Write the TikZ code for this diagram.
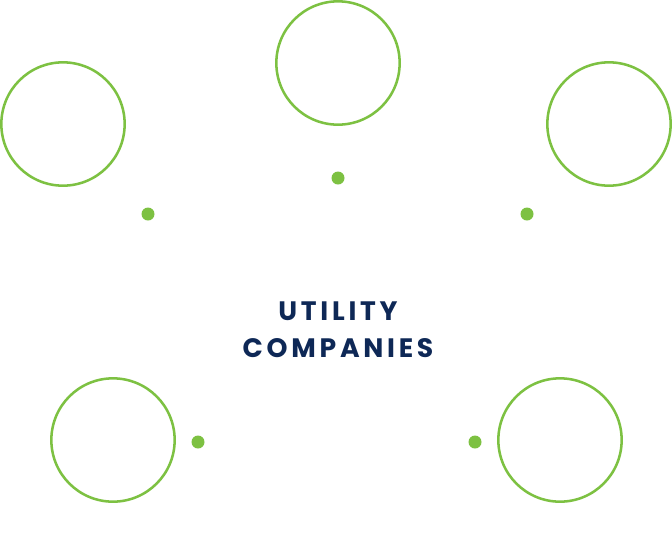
\documentclass[tikz,border=0pt]{standalone}
\usepackage{fontspec}
\newfontfamily\hubfont[LetterSpace=14]{Poppins}
\definecolor{leafgreen}{HTML}{7DC142}
\definecolor{navyblue}{HTML}{0E2856}

\begin{document}
\begin{tikzpicture}[x=0.75pt,y=-0.75pt]
  \tikzset{
    ring/.style={circle, draw=leafgreen, line width=1.9pt, minimum size=92.5pt, inner sep=0pt},
    pin/.style={circle, fill=leafgreen, minimum size=9.75pt, inner sep=0pt},
    hub/.style={align=center, text=navyblue, font=\hubfont\bfseries\fontsize{20}{27.75}\selectfont}
  }
  \useasboundingbox (0,0) rectangle (672,540);
  % outer rings
  \node[ring] (ringtop) at (338,63) {};
  \node[ring] (ringleft) at (63,124) {};
  \node[ring] (ringright) at (609,124) {};
  \node[ring] (ringbl) at (113,440) {};
  \node[ring] (ringbr) at (560,440) {};
  % small dots
  \node[pin] (pintop) at (338,178) {};
  \node[pin] (pinleft) at (148,214) {};
  \node[pin] (pinright) at (527,214) {};
  \node[pin] (pinbl) at (198,442) {};
  \node[pin] (pinbr) at (475,442) {};
  % centre text
  \node[hub] (hub) at (338,330) {UTILITY\\COMPANIES};
\end{tikzpicture}
\end{document}
